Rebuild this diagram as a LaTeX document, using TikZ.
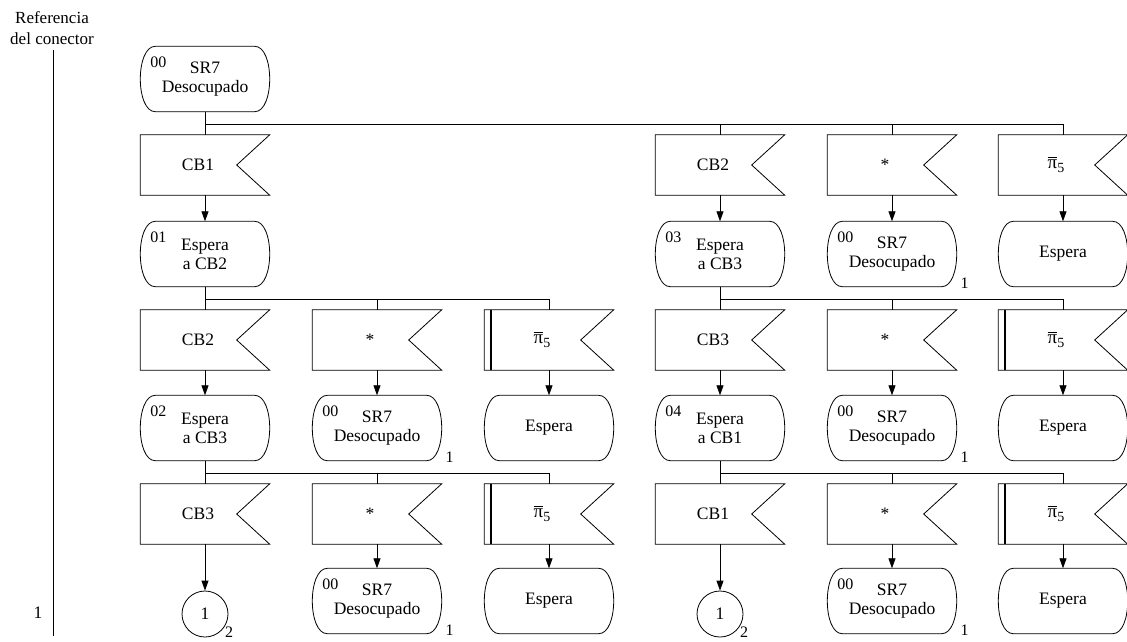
\documentclass[tikz,border=0pt]{standalone}
\usepackage{fontspec}
\setmainfont{Liberation Serif}
\usetikzlibrary{arrows.meta}
\tikzset{
 ln/.style={line width=0.8pt},
 arr/.style={line width=0.8pt, -{Triangle[length=10pt,width=7pt]}},
 inbody/.style={minimum width=129pt, minimum height=60pt, inner sep=0pt, draw=none},
 stbody/.style={minimum width=129pt, minimum height=65pt, inner sep=0pt, align=center, font=\fontsize{17.5}{19}\selectfont},
 txt/.style={font=\fontsize{17.5}{19}\selectfont, inner sep=0pt},
 num/.style={font=\fontsize{16}{18}\selectfont, inner sep=0pt},
 conn/.style={circle, draw, line width=0.8pt, minimum size=46pt, inner sep=0pt, font=\fontsize{17.5}{19}\selectfont},
 dbl/.style={line width=2pt}
}
\newcommand\InBox[4]{%
 \node[inbody] (#1) at (#2,#3) {};
 \draw[ln] (#1.north west) -- (#1.north east) -- ([xshift=-33pt]#1.east) -- (#1.south east) -- (#1.south west) -- cycle;
 \node[txt] (#1t) at ([xshift=-7pt]#1.center) {#4};}
\newcommand\DblBar[1]{\draw[dbl] ([xshift=7pt]#1.north west) -- ([xshift=7pt]#1.south west);}
\newcommand\StBox[4]{%
 \node[stbody] (#1) at (#2,#3) {#4};
 \draw[ln] ([xshift=15pt]#1.north west) -- ([xshift=-15pt]#1.north east)
   .. controls ([xshift=5pt]#1.north east) and ([xshift=5pt]#1.south east) .. ([xshift=-15pt]#1.south east)
   -- ([xshift=15pt]#1.south west)
   .. controls ([xshift=-5pt]#1.south west) and ([xshift=-5pt]#1.north west) .. ([xshift=15pt]#1.north west) -- cycle;}
\newcommand\StNum[2]{\node[num] (#1n) at ([xshift=18pt,yshift=-16pt]#1.north west) {#2};}
\newcommand\StSub[1]{\node[num] (#1s) at ([xshift=8pt,yshift=3pt]#1.south east) {1};}
\newcommand\pisym{{\setbox0\hbox{\fontsize{19}{20}\selectfont π}%
  \rlap{\rule[\dimexpr\ht0+2.4pt\relax]{\wd0}{0.8pt}}\box0}\raisebox{-4pt}{\fontsize{14}{16}\selectfont 5}}
\begin{document}
\begin{tikzpicture}[x=1pt,y=-1pt]
\useasboundingbox (0,0) rectangle (1127,641);
% reference column
\node[txt, align=center, font=\fontsize{17}{21}\selectfont] (ref) at (52,28) {Referencia\\del conector};
\coordinate (rtop) at (53,50);
\coordinate (rbot) at (53,636);
\draw[ln] (rtop) -- (rbot);
\node[txt] (ref1) at (38,613) {1};
% branch levels
\coordinate (b0) at (0,124);
\coordinate (b2) at (0,299);
\coordinate (b4) at (0,473);
% row 0
\StBox{s00}{205}{79}{SR7\\Desocupado}\StNum{s00}{00}
% row 1
\InBox{i11}{205}{165}{CB1}
\InBox{i14}{720}{165}{CB2}
\InBox{i15}{892}{165}{*}
\InBox{i16}{1063}{165}{\pisym}
% row 2
\StBox{s21}{205}{254}{Espera\\a CB2}\StNum{s21}{01}
\StBox{s24}{720}{254}{Espera\\a CB3}\StNum{s24}{03}
\StBox{s25}{892}{254}{SR7\\Desocupado}\StNum{s25}{00}\StSub{s25}
\StBox{s26}{1063}{254}{Espera}
% row 3
\InBox{i31}{205}{340}{CB2}
\InBox{i32}{377}{340}{*}
\InBox{i33}{549}{340}{\pisym}\DblBar{i33}
\InBox{i34}{720}{340}{CB3}
\InBox{i35}{892}{340}{*}
\InBox{i36}{1063}{340}{\pisym}\DblBar{i36}
% row 4
\StBox{s41}{205}{428}{Espera\\a CB3}\StNum{s41}{02}
\StBox{s42}{377}{428}{SR7\\Desocupado}\StNum{s42}{00}\StSub{s42}
\StBox{s43}{549}{428}{Espera}
\StBox{s44}{720}{428}{Espera\\a CB1}\StNum{s44}{04}
\StBox{s45}{892}{428}{SR7\\Desocupado}\StNum{s45}{00}\StSub{s45}
\StBox{s46}{1063}{428}{Espera}
% row 5
\InBox{i51}{205}{514}{CB3}
\InBox{i52}{377}{514}{*}
\InBox{i53}{549}{514}{\pisym}\DblBar{i53}
\InBox{i54}{720}{514}{CB1}
\InBox{i55}{892}{514}{*}
\InBox{i56}{1063}{514}{\pisym}\DblBar{i56}
% row 6
\node[conn] (k61) at (205,614) {1};
\node[num] (k61s) at ([xshift=24pt,yshift=-18pt]k61.center) {2};
\StBox{s62}{377}{601}{SR7\\Desocupado}\StNum{s62}{00}\StSub{s62}
\StBox{s63}{549}{601}{Espera}
\node[conn] (k64) at (720,614) {1};
\node[num] (k64s) at ([xshift=24pt,yshift=-18pt]k64.center) {2};
\StBox{s65}{892}{601}{SR7\\Desocupado}\StNum{s65}{00}\StSub{s65}
\StBox{s66}{1063}{601}{Espera}
% branches from s00
\draw[ln] (s00.south) -- (i11.north);
\draw[ln] (s00.south |- b0) -- (i16.north |- b0) -- (i16.north);
\draw[ln] (i14.north |- b0) -- (i14.north);
\draw[ln] (i15.north |- b0) -- (i15.north);
% branches from s21
\draw[ln] (s21.south) -- (i31.north);
\draw[ln] (s21.south |- b2) -- (i33.north |- b2) -- (i33.north);
\draw[ln] (i32.north |- b2) -- (i32.north);
% branches from s24
\draw[ln] (s24.south) -- (i34.north);
\draw[ln] (s24.south |- b2) -- (i36.north |- b2) -- (i36.north);
\draw[ln] (i35.north |- b2) -- (i35.north);
% branches from s41
\draw[ln] (s41.south) -- (i51.north);
\draw[ln] (s41.south |- b4) -- (i53.north |- b4) -- (i53.north);
\draw[ln] (i52.north |- b4) -- (i52.north);
% branches from s44
\draw[ln] (s44.south) -- (i54.north);
\draw[ln] (s44.south |- b4) -- (i56.north |- b4) -- (i56.north);
\draw[ln] (i55.north |- b4) -- (i55.north);
% arrows input -> next state
\draw[arr] (i11.south) -- (s21.north);
\draw[arr] (i14.south) -- (s24.north);
\draw[arr] (i15.south) -- (s25.north);
\draw[arr] (i16.south) -- (s26.north);
\draw[arr] (i31.south) -- (s41.north);
\draw[arr] (i32.south) -- (s42.north);
\draw[arr] (i33.south) -- (s43.north);
\draw[arr] (i34.south) -- (s44.north);
\draw[arr] (i35.south) -- (s45.north);
\draw[arr] (i36.south) -- (s46.north);
\draw[arr] (i51.south) -- (k61.north);
\draw[arr] (i52.south) -- (s62.north);
\draw[arr] (i53.south) -- (s63.north);
\draw[arr] (i54.south) -- (k64.north);
\draw[arr] (i55.south) -- (s65.north);
\draw[arr] (i56.south) -- (s66.north);
\end{tikzpicture}
\end{document}
